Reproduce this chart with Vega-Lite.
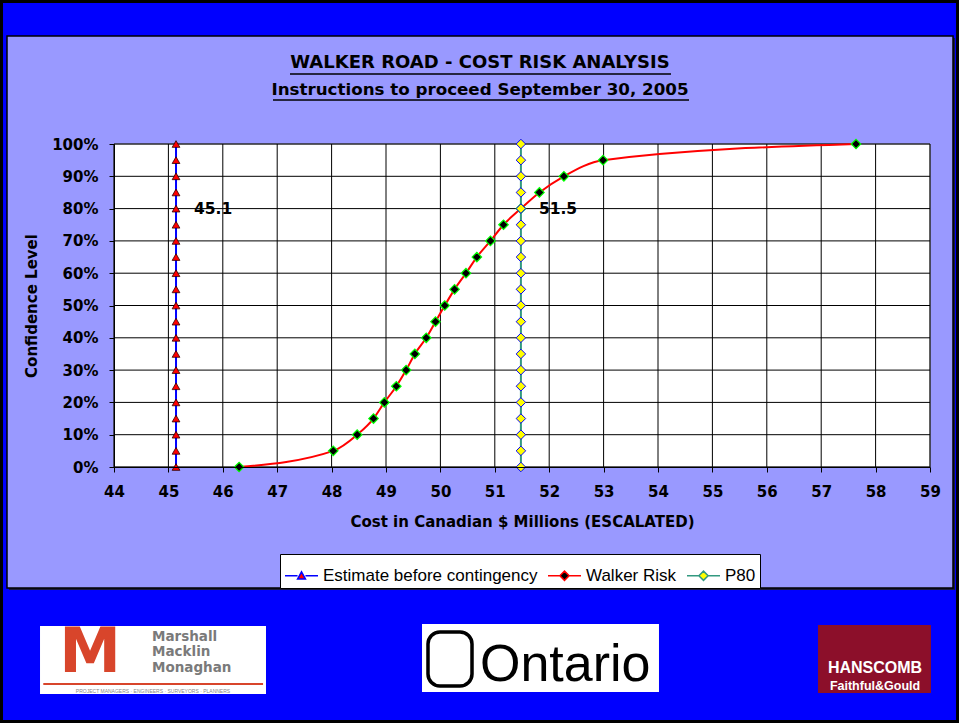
{
  "$schema": "https://vega.github.io/schema/vega-lite/v6.json",
  "width": 816,
  "height": 323,
  "autosize": {"type": "none"},
  "padding": {"left": 114, "top": 144, "right": 29, "bottom": 256},
  "background": "#0000FF",
  "title": {
    "text": "WALKER ROAD - COST RISK ANALYSIS",
    "subtitle": "Instructions to proceed September 30, 2005",
    "anchor": "middle",
    "frame": "group",
    "dx": -42,
    "offset": -99,
    "font": "DejaVu Sans",
    "fontSize": 18,
    "fontWeight": "bold",
    "color": "black",
    "subtitleFont": "DejaVu Sans",
    "subtitleFontSize": 16.7,
    "subtitleFontWeight": "bold",
    "subtitleColor": "black",
    "subtitlePadding": 10,
    "zindex": 1
  },
  "config": {
    "view": {"stroke": null},
    "axis": {
      "grid": false,
      "labelFont": "DejaVu Sans",
      "labelFontWeight": "bold",
      "labelFontSize": 15,
      "labelColor": "black",
      "labelOverlap": false,
      "titleFont": "DejaVu Sans",
      "titleFontWeight": "bold",
      "titleFontSize": 15,
      "titleColor": "black",
      "domainColor": "black",
      "tickColor": "black",
      "tickSize": 5
    },
    "legend": {
      "orient": "none",
      "legendX": 166,
      "legendY": 410,
      "direction": "horizontal",
      "zindex": 1,
      "labelFont": "Liberation Sans",
      "labelFontSize": 17,
      "labelColor": "black",
      "fillColor": "white",
      "strokeColor": "black",
      "padding": 4,
      "columnPadding": 7,
      "labelOffset": 4,
      "symbolOpacity": 1,
      "symbolStrokeWidth": 1.5,
      "symbolSize": 1089,
      "labelLimit": 400
    }
  },
  "datasets": {
    "gx": [{"v":44},{"v":45},{"v":46},{"v":47},{"v":48},{"v":49},{"v":50},{"v":51},{"v":52},{"v":53},{"v":54},{"v":55},{"v":56},{"v":57},{"v":58},{"v":59}],
    "gy": [{"v":0},{"v":0.1},{"v":0.2},{"v":0.3},{"v":0.4},{"v":0.5},{"v":0.6},{"v":0.7},{"v":0.8},{"v":0.9},{"v":1}],
    "main": [
      {"series":"Estimate before contingency","cost":45.14,"conf":0},
      {"series":"Estimate before contingency","cost":45.14,"conf":0.05},
      {"series":"Estimate before contingency","cost":45.14,"conf":0.1},
      {"series":"Estimate before contingency","cost":45.14,"conf":0.15},
      {"series":"Estimate before contingency","cost":45.14,"conf":0.2},
      {"series":"Estimate before contingency","cost":45.14,"conf":0.25},
      {"series":"Estimate before contingency","cost":45.14,"conf":0.3},
      {"series":"Estimate before contingency","cost":45.14,"conf":0.35},
      {"series":"Estimate before contingency","cost":45.14,"conf":0.4},
      {"series":"Estimate before contingency","cost":45.14,"conf":0.45},
      {"series":"Estimate before contingency","cost":45.14,"conf":0.5},
      {"series":"Estimate before contingency","cost":45.14,"conf":0.55},
      {"series":"Estimate before contingency","cost":45.14,"conf":0.6},
      {"series":"Estimate before contingency","cost":45.14,"conf":0.65},
      {"series":"Estimate before contingency","cost":45.14,"conf":0.7},
      {"series":"Estimate before contingency","cost":45.14,"conf":0.75},
      {"series":"Estimate before contingency","cost":45.14,"conf":0.8},
      {"series":"Estimate before contingency","cost":45.14,"conf":0.85},
      {"series":"Estimate before contingency","cost":45.14,"conf":0.9},
      {"series":"Estimate before contingency","cost":45.14,"conf":0.95},
      {"series":"Estimate before contingency","cost":45.14,"conf":1},
      {"series":"Walker Risk","cost":46.30,"conf":0},
      {"series":"Walker Risk","cost":48.03,"conf":0.05},
      {"series":"Walker Risk","cost":48.47,"conf":0.1},
      {"series":"Walker Risk","cost":48.77,"conf":0.15},
      {"series":"Walker Risk","cost":48.97,"conf":0.2},
      {"series":"Walker Risk","cost":49.19,"conf":0.25},
      {"series":"Walker Risk","cost":49.37,"conf":0.3},
      {"series":"Walker Risk","cost":49.53,"conf":0.35},
      {"series":"Walker Risk","cost":49.74,"conf":0.4},
      {"series":"Walker Risk","cost":49.91,"conf":0.45},
      {"series":"Walker Risk","cost":50.08,"conf":0.5},
      {"series":"Walker Risk","cost":50.26,"conf":0.55},
      {"series":"Walker Risk","cost":50.47,"conf":0.6},
      {"series":"Walker Risk","cost":50.67,"conf":0.65},
      {"series":"Walker Risk","cost":50.92,"conf":0.7},
      {"series":"Walker Risk","cost":51.16,"conf":0.75},
      {"series":"Walker Risk","cost":51.48,"conf":0.8},
      {"series":"Walker Risk","cost":51.82,"conf":0.85},
      {"series":"Walker Risk","cost":52.27,"conf":0.9},
      {"series":"Walker Risk","cost":52.99,"conf":0.95},
      {"series":"Walker Risk","cost":57.64,"conf":1},
      {"series":"P80","cost":51.48,"conf":0},
      {"series":"P80","cost":51.48,"conf":0.05},
      {"series":"P80","cost":51.48,"conf":0.1},
      {"series":"P80","cost":51.48,"conf":0.15},
      {"series":"P80","cost":51.48,"conf":0.2},
      {"series":"P80","cost":51.48,"conf":0.25},
      {"series":"P80","cost":51.48,"conf":0.3},
      {"series":"P80","cost":51.48,"conf":0.35},
      {"series":"P80","cost":51.48,"conf":0.4},
      {"series":"P80","cost":51.48,"conf":0.45},
      {"series":"P80","cost":51.48,"conf":0.5},
      {"series":"P80","cost":51.48,"conf":0.55},
      {"series":"P80","cost":51.48,"conf":0.6},
      {"series":"P80","cost":51.48,"conf":0.65},
      {"series":"P80","cost":51.48,"conf":0.7},
      {"series":"P80","cost":51.48,"conf":0.75},
      {"series":"P80","cost":51.48,"conf":0.8},
      {"series":"P80","cost":51.48,"conf":0.85},
      {"series":"P80","cost":51.48,"conf":0.9},
      {"series":"P80","cost":51.48,"conf":0.95},
      {"series":"P80","cost":51.48,"conf":1}
    ]
  },
  "layer": [
    {
      "data": {"values": [{}]},
      "mark": {"type": "rect", "fill": null, "stroke": "black", "strokeWidth": 3},
      "encoding": {
        "x": {"datum": 41.932, "type": "quantitative", "scale": {"domain": [44, 59], "nice": false, "zero": false},
              "axis": {"zindex": 1, "title": "Cost in Canadian $ Millions (ESCALATED)", "values": [44,45,46,47,48,49,50,51,52,53,54,55,56,57,58,59], "format": "d", "labelPadding": 12, "titlePadding": 15, "labelFlush": false, "labelOverlap": false}},
        "x2": {"datum": 59.506},
        "y": {"datum": 1.4412, "type": "quantitative", "scale": {"domain": [0, 1], "nice": false, "zero": false},
              "axis": {"zindex": 1, "title": "Confidence Level", "values": [0,0.1,0.2,0.3,0.4,0.5,0.6,0.7,0.8,0.9,1], "tickCount": 11, "format": ".0%", "labelPadding": 11, "titlePadding": 12, "labelFlush": false, "labelOverlap": false, "labelBound": false}},
        "y2": {"datum": -0.788}
      }
    },
    {
      "data": {"values": [{}]},
      "mark": {"type": "rect", "fill": "#1a1a40"},
      "encoding": {"x": {"datum": 42.070}, "x2": {"datum": 59.460}, "y": {"datum": 1.3282}, "y2": {"datum": -0.3808}}
    },
    {
      "data": {"values": [{}]},
      "mark": {"type": "rect", "fill": "#9999FF", "stroke": "black", "strokeWidth": 1.5},
      "encoding": {"x": {"datum": 42.033}, "x2": {"datum": 59.423}, "y": {"datum": 1.3344}, "y2": {"datum": -0.3746}}
    },
    {
      "data": {"values": [{}]},
      "mark": {"type": "rect", "fill": "white", "stroke": "#808080", "strokeWidth": 1},
      "encoding": {"x": {"datum": 44}, "x2": {"datum": 59}, "y": {"datum": 1}, "y2": {"datum": 0}}
    },
    {
      "data": {"name": "gx"},
      "mark": {"type": "rule", "stroke": "black", "strokeWidth": 1},
      "encoding": {"x": {"field": "v", "type": "quantitative"}, "y": {"datum": 0}, "y2": {"datum": 1}}
    },
    {
      "data": {"name": "gy"},
      "mark": {"type": "rule", "stroke": "black", "strokeWidth": 1},
      "encoding": {"y": {"field": "v", "type": "quantitative"}, "x": {"datum": 44}, "x2": {"datum": 59}}
    },
    {
      "data": {"name": "main"},
      "transform": [{"filter": "datum.series === 'Estimate before contingency'"}],
      "mark": {"type": "line", "stroke": "#0000FF", "strokeWidth": 2},
      "encoding": {"x": {"field": "cost", "type": "quantitative"}, "y": {"field": "conf", "type": "quantitative"}, "order": {"field": "conf"}}
    },
    {
      "data": {"name": "main"},
      "transform": [{"filter": "datum.series === 'Estimate before contingency'"}],
      "mark": {"type": "point", "shape": "triangle-up", "filled": true, "fill": "#FF0000", "stroke": "#300000", "strokeWidth": 0.8, "size": 60, "opacity": 1},
      "encoding": {"x": {"field": "cost", "type": "quantitative"}, "y": {"field": "conf", "type": "quantitative"}}
    },
    {
      "data": {"name": "main"},
      "transform": [{"filter": "datum.series === 'Walker Risk'"}],
      "mark": {"type": "line", "stroke": "#FF0000", "strokeWidth": 2, "interpolate": "monotone"},
      "encoding": {"x": {"field": "cost", "type": "quantitative"}, "y": {"field": "conf", "type": "quantitative"}, "order": {"field": "conf"}}
    },
    {
      "data": {"name": "main"},
      "transform": [{"filter": "datum.series === 'Walker Risk'"}],
      "mark": {"type": "point", "shape": "diamond", "filled": true, "fill": "#000000", "stroke": "#00FF00", "strokeWidth": 1.2, "size": 90, "opacity": 1},
      "encoding": {"x": {"field": "cost", "type": "quantitative"}, "y": {"field": "conf", "type": "quantitative"}}
    },
    {
      "data": {"name": "main"},
      "transform": [{"filter": "datum.series === 'P80'"}],
      "mark": {"type": "line", "stroke": "#339980", "strokeWidth": 2},
      "encoding": {"x": {"field": "cost", "type": "quantitative"}, "y": {"field": "conf", "type": "quantitative"}, "order": {"field": "conf"}}
    },
    {
      "data": {"name": "main"},
      "transform": [{"filter": "datum.series === 'P80'"}],
      "mark": {"type": "point", "shape": "diamond", "filled": true, "fill": "#FFFF00", "stroke": "#0000FF", "strokeWidth": 1, "size": 90, "opacity": 1},
      "encoding": {"x": {"field": "cost", "type": "quantitative"}, "y": {"field": "conf", "type": "quantitative"}}
    },
    {
      "data": {"name": "main"},
      "transform": [{"filter": "datum.series !== 'Walker Risk' && datum.conf === 0.8"}],
      "mark": {"type": "text", "align": "left", "baseline": "middle", "dx": 18, "font": "DejaVu Sans", "fontSize": 15.5, "fontWeight": "bold", "fill": "black"},
      "encoding": {"x": {"field": "cost", "type": "quantitative"}, "y": {"field": "conf", "type": "quantitative"}, "text": {"field": "cost", "type": "quantitative", "format": ".1f"}}
    },
    {
      "data": {"values": [{}]},
      "mark": {"type": "rule", "stroke": "black", "strokeWidth": 1.5},
      "encoding": {"x": {"datum": 47.235}, "x2": {"datum": 54.239}, "y": {"datum": 1.2167}}
    },
    {
      "data": {"values": [{}]},
      "mark": {"type": "rule", "stroke": "black", "strokeWidth": 1.5},
      "encoding": {"x": {"datum": 46.923}, "x2": {"datum": 54.570}, "y": {"datum": 1.1362}}
    },
    {
      "data": {"values": [{}]},
      "mark": {"type": "rect", "fill": "white"},
      "encoding": {"x": {"datum": 42.640}, "x2": {"datum": 46.794}, "y": {"datum": -0.4923}, "y2": {"datum": -0.7028}}
    },
    {
      "data": {"values": [{}]},
      "mark": {"type": "text", "text": "M", "font": "DejaVu Sans", "fontSize": 62, "fontWeight": "bold", "fill": "#D8452B", "align": "center", "baseline": "bottom"},
      "encoding": {"x": {"datum": 43.559}, "y": {"datum": -0.6749}}
    },
    {
      "data": {"values": [{}]},
      "mark": {"type": "text", "text": ["Marshall", "Macklin", "Monaghan"], "lineHeight": 15.5, "font": "DejaVu Sans", "fontSize": 13.5, "fontWeight": "bold", "fill": "#7a7a7a", "align": "left", "baseline": "top"},
      "encoding": {"x": {"datum": 44.699}, "y": {"datum": -0.5046}}
    },
    {
      "data": {"values": [{}]},
      "mark": {"type": "rule", "stroke": "#D8452B", "strokeWidth": 2},
      "encoding": {"x": {"datum": 42.70}, "x2": {"datum": 46.74}, "y": {"datum": -0.6718}}
    },
    {
      "data": {"values": [{}]},
      "mark": {"type": "text", "text": "PROJECT MANAGERS · ENGINEERS · SURVEYORS · PLANNERS", "font": "Liberation Sans", "fontSize": 5, "fill": "#888888", "align": "center", "baseline": "middle"},
      "encoding": {"x": {"datum": 44.717}, "y": {"datum": -0.6935}}
    },
    {
      "data": {"values": [{}]},
      "mark": {"type": "rect", "fill": "white"},
      "encoding": {"x": {"datum": 49.662}, "x2": {"datum": 54.018}, "y": {"datum": -0.4861}, "y2": {"datum": -0.6966}}
    },
    {
      "data": {"values": [{}]},
      "mark": {"type": "rect", "fill": null, "stroke": "black", "strokeWidth": 3.5, "cornerRadius": 12},
      "encoding": {"x": {"datum": 49.772}, "x2": {"datum": 50.581}, "y": {"datum": -0.5108}, "y2": {"datum": -0.678}}
    },
    {
      "data": {"values": [{}]},
      "mark": {"type": "text", "text": "Ontario", "font": "Liberation Sans", "fontSize": 52, "fill": "black", "align": "left", "baseline": "alphabetic"},
      "encoding": {"x": {"datum": 50.728}, "y": {"datum": -0.6625}}
    },
    {
      "data": {"values": [{}]},
      "mark": {"type": "rect", "fill": "#8C0F2A"},
      "encoding": {"x": {"datum": 56.941}, "x2": {"datum": 59.018}, "y": {"datum": -0.4892}, "y2": {"datum": -0.6997}}
    },
    {
      "data": {"values": [{}]},
      "mark": {"type": "text", "text": "HANSCOMB", "font": "Liberation Sans", "fontSize": 16, "fontWeight": "bold", "fill": "white", "align": "center", "baseline": "middle"},
      "encoding": {"x": {"datum": 57.989}, "y": {"datum": -0.6223}}
    },
    {
      "data": {"values": [{}]},
      "mark": {"type": "text", "text": "Faithful&Gould", "font": "Liberation Sans", "fontSize": 12.5, "fontWeight": "bold", "fill": "white", "align": "center", "baseline": "middle"},
      "encoding": {"x": {"datum": 57.989}, "y": {"datum": -0.678}}
    },
    {
      "data": {"name": "main"},
      "transform": [{"filter": "datum.conf === 0"}],
      "mark": {"type": "point", "filled": true, "opacity": 0},
      "encoding": {
        "x": {"field": "cost", "type": "quantitative"},
        "y": {"field": "conf", "type": "quantitative"},
        "shape": {"field": "series", "type": "nominal",
          "scale": {"domain": ["Estimate before contingency", "Walker Risk", "P80"],
                    "range": ["M-1,0H-0.24M0.24,0H1M-0.24,0.2L0,-0.24L0.24,0.2Z", "M-1,0H-0.28M0.28,0H1M-0.28,0L0,-0.28L0.28,0L0,0.28Z", "M-1,0H-0.28M0.28,0H1M-0.28,0L0,-0.28L0.28,0L0,0.28Z"]},
          "legend": {"title": null}},
        "fill": {"field": "series", "type": "nominal",
          "scale": {"domain": ["Estimate before contingency", "Walker Risk", "P80"], "range": ["#FF0000", "#000000", "#FFFF00"]},
          "legend": {"title": null}},
        "stroke": {"field": "series", "type": "nominal",
          "scale": {"domain": ["Estimate before contingency", "Walker Risk", "P80"], "range": ["#0000FF", "#FF0000", "#339980"]},
          "legend": {"title": null}}
      }
    }
  ]
}
